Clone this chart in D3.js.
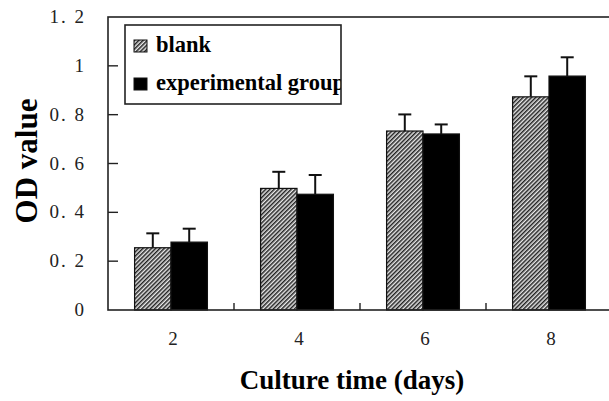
<!DOCTYPE html>
<html>
<head>
<meta charset="utf-8">
<script src="https://cdn.jsdelivr.net/npm/d3@7"></script>
<style>
  body { margin: 0; background: #fff; }
  svg { display: block; }
</style>
</head>
<body>
<svg id="chart" width="609" height="401"></svg>
<script>
// data
var days = ["2", "4", "6", "8"];
var series = ["blank", "experimental group"];
var blank = [0.255, 0.498, 0.733, 0.873];
var blankErr = [0.059, 0.068, 0.068, 0.084];
var exper = [0.278, 0.474, 0.721, 0.958];
var experErr = [0.055, 0.079, 0.039, 0.077];
var yTicks = [0, 0.2, 0.4, 0.6, 0.8, 1, 1.2];
var yTickLabels = ["0", "0. 2", "0. 4", "0. 6", "0. 8", "1", "1. 2"];

var serif = "'Liberation Serif', 'Times New Roman', serif";

var svg = d3.select("#chart");
var pLeft = 108, pRight = 612, pTop = 17, pBottom = 310;

var x = d3.scaleBand().domain(days).range([pLeft, pRight]).padding(0);
var x1 = d3.scaleBand().domain(series).range([0, x.bandwidth()]).paddingInner(0).paddingOuter(0.73);
var y = d3.scaleLinear().domain([0, 1.2]).range([pBottom, pTop]);

// hatch pattern for the blank bars
var defs = svg.append("defs");
var pat = defs.append("pattern")
    .attr("id", "hatch")
    .attr("patternUnits", "userSpaceOnUse")
    .attr("width", 3)
    .attr("height", 3)
    .attr("patternTransform", "rotate(-45)");
pat.append("rect").attr("width", 3).attr("height", 3).attr("fill", "#e8e8e8");
pat.append("rect").attr("width", 3).attr("height", 1.5).attr("fill", "#222");

var rows = days.map(function(d, i) {
    return [
        {day: d, s: series[0], v: blank[i], e: blankErr[i]},
        {day: d, s: series[1], v: exper[i], e: experErr[i]}
    ];
});
var flat = [].concat.apply([], rows);

function cx(d) { return x(d.day) + x1(d.s) + x1.bandwidth() / 2; }

// error bars (upper only)
svg.selectAll("line.err")
    .data(flat)
    .enter()
    .append("line")
    .attr("class", "err")
    .attr("x1", cx)
    .attr("x2", cx)
    .attr("y1", function(d) { return y(d.v); })
    .attr("y2", function(d) { return y(d.v + d.e); })
    .attr("stroke", "#111")
    .attr("stroke-width", 2);

svg.selectAll("line.cap")
    .data(flat)
    .enter()
    .append("line")
    .attr("class", "cap")
    .attr("x1", function(d) { return cx(d) - 6.5; })
    .attr("x2", function(d) { return cx(d) + 6.5; })
    .attr("y1", function(d) { return y(d.v + d.e); })
    .attr("y2", function(d) { return y(d.v + d.e); })
    .attr("stroke", "#111")
    .attr("stroke-width", 2);

// bars
svg.selectAll("rect.bar")
    .data(flat)
    .enter()
    .append("rect")
    .attr("class", "bar")
    .attr("x", function(d) { return x(d.day) + x1(d.s); })
    .attr("width", x1.bandwidth())
    .attr("y", function(d) { return y(d.v); })
    .attr("height", function(d) { return y(0) - y(d.v); })
    .attr("fill", function(d) { return d.s == series[0] ? "url(#hatch)" : "#000"; })
    .attr("stroke", "#111")
    .attr("stroke-width", 1.2);

// frame
svg.append("rect")
    .attr("x", pLeft)
    .attr("y", pTop)
    .attr("width", pRight - pLeft)
    .attr("height", pBottom - pTop)
    .attr("fill", "none")
    .attr("stroke", "#222")
    .attr("stroke-width", 1.6);

// y ticks, inward
svg.selectAll("line.ytick")
    .data(yTicks.slice(1, -1))
    .enter()
    .append("line")
    .attr("x1", pLeft)
    .attr("x2", pLeft + 10)
    .attr("y1", function(d) { return y(d); })
    .attr("y2", function(d) { return y(d); })
    .attr("stroke", "#222")
    .attr("stroke-width", 1.4);

svg.selectAll("text.ylab")
    .data(yTicks)
    .enter()
    .append("text")
    .attr("x", 86)
    .attr("y", function(d) { return y(d) + 6; })
    .attr("text-anchor", "end")
    .attr("font-family", serif)
    .attr("font-size", "19px")
    .attr("letter-spacing", "2px")
    .attr("fill", "#222")
    .text(function(d, i) { return yTickLabels[i]; });

// x ticks at band boundaries, inward
svg.selectAll("line.xtick")
    .data(days.slice(1))
    .enter()
    .append("line")
    .attr("x1", function(d) { return x(d); })
    .attr("x2", function(d) { return x(d); })
    .attr("y1", pBottom)
    .attr("y2", pBottom - 7)
    .attr("stroke", "#222")
    .attr("stroke-width", 1.4);

svg.selectAll("text.xlab")
    .data(days)
    .enter()
    .append("text")
    .attr("x", function(d) { return x(d) + x.bandwidth() / 2 + 2; })
    .attr("y", 345)
    .attr("text-anchor", "middle")
    .attr("font-family", serif)
    .attr("font-size", "19px")
    .attr("fill", "#222")
    .text(function(d) { return d; });

// axis titles
svg.append("text")
    .attr("x", 352)
    .attr("y", 389)
    .attr("text-anchor", "middle")
    .attr("font-family", serif)
    .attr("font-weight", "bold")
    .attr("font-size", "27px")
    .attr("fill", "#000")
    .text("Culture time (days)");

svg.append("text")
    .attr("transform", "translate(37,161) rotate(-90)")
    .attr("text-anchor", "middle")
    .attr("font-family", serif)
    .attr("font-weight", "bold")
    .attr("font-size", "31px")
    .attr("fill", "#000")
    .text("OD value");

// legend
defs.append("clipPath").attr("id", "legclip")
    .append("rect").attr("x", 125).attr("y", 25).attr("width", 216).attr("height", 79);

var leg = svg.append("g");
leg.append("rect")
    .attr("x", 125)
    .attr("y", 25)
    .attr("width", 216)
    .attr("height", 79)
    .attr("fill", "#fff");

var legItems = leg.selectAll("g.item")
    .data(series)
    .enter()
    .append("g")
    .attr("clip-path", "url(#legclip)");

legItems.append("rect")
    .attr("x", 134)
    .attr("y", function(d, i) { return 40 + i * 38; })
    .attr("width", 13)
    .attr("height", 12)
    .attr("fill", function(d, i) { return i == 0 ? "url(#hatch)" : "#000"; })
    .attr("stroke", "#111")
    .attr("stroke-width", 1);

legItems.append("text")
    .attr("x", 156)
    .attr("y", function(d, i) { return 52 + i * 38; })
    .attr("font-family", serif)
    .attr("font-weight", "bold")
    .attr("font-size", "22.5px")
    .attr("fill", "#000")
    .text(function(d) { return d; });

// legend border on top of the clipped text
leg.append("rect")
    .attr("x", 125)
    .attr("y", 25)
    .attr("width", 216)
    .attr("height", 79)
    .attr("fill", "none")
    .attr("stroke", "#222")
    .attr("stroke-width", 1.6);
</script>
</body>
</html>
